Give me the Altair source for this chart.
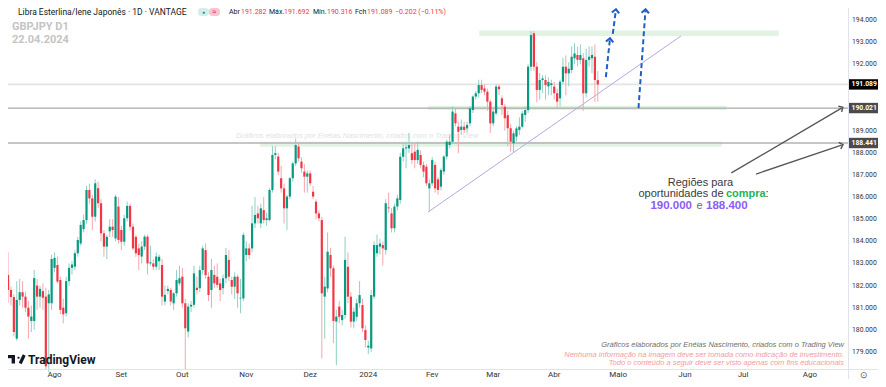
import math
import altair as alt
import pandas as pd

# ---------------- data ----------------
opens = [
    182.48, 181.80, 181.48, 179.6, 181.35, 181.7, 181.5, 181.0, 180.4, 180.4,
    182.0, 181.5, 181.75, 181.5, 181.2, 181.2, 182.8, 182.93, 182.25, 181.0,
    180.75, 182.2, 182.8, 182.85, 183.46, 183.9, 184.55, 184.96, 186.32, 185.94,
    185.11, 186.4, 185.72, 184.36, 183.76, 184.45, 184.66, 184.13, 185.57, 184.51,
    183.98, 185.04, 185.6, 184.66, 184.2, 183.68, 183.31, 183.76, 184.21, 183.0,
    183.0, 182.85, 183.1, 182.93, 181.28, 181.75, 181.8, 181.2, 181.65, 182.1,
    182.4, 181.2, 179.92, 181.05, 181.13, 181.9, 181.88, 182.7, 183.6, 182.4,
    181.8, 182.48, 182.4, 182.1, 181.88, 182.33, 183.16, 182.25, 181.95, 182.4,
    181.42, 181.42, 183.38, 183.68, 183.68, 184.81, 185.26, 184.81, 185.41, 184.96,
    184.96, 186.32, 187.9, 187.83, 186.85, 186.39, 185.49, 186.02, 186.85, 187.52,
    188.28, 187.6, 187.15, 186.92, 187.07, 186.24, 185.79, 185.26, 184.96, 181.5,
    181.87, 183.38, 182.78, 180.37, 181.05, 180.44, 180.67, 182.85, 181.5, 180.37,
    180.59, 181.2, 181.12, 179.99, 179.2, 179.16, 181.5, 183.46, 183.76, 183.83,
    183.61, 185.53, 185.26, 184.59, 185.57, 185.87, 187.82, 188.2, 188.2, 187.98,
    188.05, 187.67, 187.9, 187.45, 187.37, 186.39, 186.62, 187.45, 186.8, 186.47,
    187.15, 187.83, 188.35, 188.5, 189.78, 189.18, 189.03, 189.18, 189.1, 189.33,
    189.93, 190.54, 190.69, 191.06, 190.91, 190.76, 190.31, 189.33, 189.78, 190.99,
    190.46, 190.08, 189.7, 189.11, 188.43, 188.73, 189.03, 189.18, 189.71, 189.93,
    191.89, 193.4, 191.89, 190.84, 191.29, 191.29, 191.0, 191.06, 190.99, 190.69,
    190.46, 191.21, 191.89, 191.59, 191.74, 192.27, 192.42, 192.19, 192.27, 190.69,
    192.2, 192.27, 192.34, 191.282,
]
highs = [
    183.5, 181.95, 181.6, 182.2, 182.3, 182.2, 181.7, 181.3, 181.1, 182.7,
    182.3, 182.0, 182.1, 181.9, 181.8, 183.4, 183.5, 183.3, 182.4, 181.4,
    182.4, 183.0, 183.1, 183.6, 184.2, 184.9, 185.2, 186.5, 186.6, 186.1,
    186.8, 186.7, 185.9, 184.5, 184.3, 185.0, 185.0, 186.1, 186.0, 184.7,
    185.2, 185.8, 185.7, 184.8, 184.3, 183.9, 184.0, 184.3, 184.3, 183.8,
    183.2, 183.5, 183.4, 183.2, 182.0, 182.0, 181.9, 181.7, 182.7, 182.9,
    182.8, 181.4, 181.2, 181.3, 182.9, 182.4, 182.9, 183.8, 183.9, 182.6,
    183.2, 182.9, 183.0, 182.3, 182.5, 183.7, 183.6, 182.4, 182.6, 182.5,
    182.3, 184.4, 184.0, 183.9, 185.6, 186.0, 185.6, 185.7, 186.0, 185.3,
    186.4, 188.3, 188.3, 188.0, 187.4, 186.6, 186.1, 186.9, 187.6, 188.65,
    188.5, 187.8, 187.5, 187.2, 187.2, 186.5, 185.9, 185.4, 185.1, 182.4,
    184.4, 183.7, 182.9, 180.9, 181.3, 180.9, 184.2, 183.5, 181.7, 181.0,
    181.4, 182.2, 181.4, 180.2, 179.5, 181.8, 184.0, 184.3, 184.1, 184.0,
    185.9, 186.2, 185.5, 185.7, 186.1, 188.0, 188.4, 188.5, 188.9, 188.4,
    188.4, 188.5, 188.1, 187.6, 187.5, 186.8, 187.8, 187.6, 186.9, 187.3,
    187.9, 188.6, 188.8, 190.1, 190.0, 189.4, 189.5, 189.4, 189.4, 190.1,
    190.6, 190.8, 191.3, 191.3, 191.1, 190.9, 190.4, 190.0, 191.1, 191.1,
    190.6, 190.2, 189.9, 189.3, 189.0, 189.2, 189.6, 189.9, 190.1, 192.0,
    193.5, 193.5, 192.1, 191.6, 191.5, 191.5, 191.4, 191.3, 191.2, 190.9,
    191.3, 192.3, 192.4, 192.1, 192.8, 192.95, 192.8, 192.9, 192.5, 192.7,
    192.8, 192.8, 192.9, 191.692,
]
lows = [
    181.2, 181.1, 179.7, 179.5, 181.1, 181.0, 180.8, 179.6, 179.9, 180.0,
    180.9, 181.0, 180.9, 178.2, 178.1, 180.9, 182.6, 182.1, 180.7, 180.3,
    180.6, 182.0, 182.5, 182.7, 183.3, 183.8, 184.4, 184.8, 185.7, 184.5,
    184.9, 185.5, 184.0, 183.3, 183.2, 184.2, 184.2, 184.0, 183.9, 183.6,
    183.8, 184.9, 184.5, 183.6, 183.3, 182.7, 183.0, 183.6, 182.5, 182.9,
    182.7, 182.7, 182.7, 181.1, 181.1, 181.6, 181.1, 180.9, 181.5, 182.0,
    181.0, 178.2, 179.65, 180.8, 181.0, 181.6, 181.7, 182.5, 182.3, 181.3,
    181.0, 181.9, 181.9, 181.3, 181.6, 182.1, 182.2, 181.6, 181.4, 181.0,
    180.75, 181.3, 183.1, 183.2, 183.5, 184.6, 184.8, 184.6, 184.8, 184.7,
    184.9, 186.2, 187.7, 187.0, 186.2, 184.8, 184.5, 185.9, 186.7, 187.4,
    187.6, 187.1, 186.2, 186.2, 186.5, 185.9, 185.0, 184.9, 178.7, 179.6,
    181.7, 182.4, 179.4, 178.4, 180.3, 180.2, 180.5, 181.2, 180.1, 180.07,
    180.4, 181.0, 179.9, 179.2, 178.9, 179.0, 181.4, 183.3, 183.4, 182.9,
    183.4, 185.3, 184.4, 184.4, 185.4, 185.7, 187.6, 187.3, 188.0, 187.5,
    187.3, 187.5, 187.3, 186.9, 186.5, 185.34, 186.5, 186.2, 186.1, 186.3,
    187.0, 187.7, 188.2, 188.4, 189.2, 187.98, 188.8, 188.9, 188.9, 189.2,
    189.8, 190.4, 190.5, 190.7, 190.6, 189.9, 188.9, 189.2, 189.7, 190.6,
    189.7, 189.0, 188.3, 188.05, 188.0, 188.5, 188.8, 189.1, 189.4, 189.8,
    191.7, 191.7, 190.3, 190.4, 190.7, 190.4, 190.6, 190.6, 190.4, 190.0,
    190.1, 191.1, 190.6, 191.0, 191.6, 192.0, 191.9, 192.0, 189.9, 190.5,
    191.9, 191.6, 190.3, 190.316,
]
closes = [
    181.80, 181.48, 179.9, 181.35, 181.7, 181.5, 181.0, 180.6, 180.6, 182.34,
    181.5, 181.85, 181.45, 178.35, 181.6, 183.2, 183.25, 182.18, 180.9, 180.7,
    182.2, 182.8, 182.95, 183.46, 184.06, 184.74, 184.96, 186.32, 185.94, 185.11,
    186.62, 185.72, 184.36, 183.76, 184.2, 184.66, 184.51, 186.02, 184.06, 183.98,
    185.04, 185.6, 184.66, 183.68, 183.46, 183.38, 183.76, 184.21, 183.0, 183.05,
    182.85, 183.31, 183.3, 181.5, 181.58, 181.85, 181.28, 181.65, 182.25, 182.33,
    181.2, 180.07, 181.05, 181.13, 182.55, 181.8, 182.7, 183.68, 182.47, 181.57,
    182.7, 182.1, 182.03, 181.8, 182.33, 183.38, 182.4, 181.95, 182.4, 181.65,
    181.45, 184.29, 183.68, 183.38, 184.81, 185.19, 185.04, 185.49, 184.96, 185.04,
    186.32, 187.9, 187.98, 187.15, 186.39, 185.49, 186.02, 186.85, 187.52, 188.35,
    187.75, 187.3, 186.92, 187.07, 186.62, 186.02, 185.26, 185.04, 181.65, 181.95,
    183.53, 182.78, 180.4, 180.6, 180.59, 180.67, 183.16, 181.5, 180.37, 180.82,
    181.2, 181.57, 180.07, 179.54, 179.28, 181.57, 183.83, 183.83, 183.9, 183.68,
    185.72, 185.49, 184.59, 185.57, 185.94, 187.82, 188.2, 188.25, 188.35, 187.67,
    187.67, 188.13, 187.45, 187.15, 186.62, 186.62, 187.67, 186.39, 186.32, 187.22,
    187.83, 188.5, 188.5, 189.86, 189.33, 188.95, 189.18, 189.03, 189.26, 190.01,
    190.54, 190.69, 191.06, 190.84, 190.76, 190.31, 189.33, 189.86, 190.99, 190.87,
    190.16, 189.56, 189.11, 188.5, 188.88, 189.1, 189.18, 189.78, 189.93, 191.89,
    193.32, 191.89, 190.84, 191.29, 191.36, 191.06, 191.2, 191.14, 190.69, 190.31,
    191.21, 191.89, 191.59, 191.8, 192.34, 192.49, 192.2, 192.42, 190.69, 192.19,
    192.34, 192.42, 191.29, 191.089,
]

month_names = ["Ago", "Set", "Out", "Nov", "Dez", "2024", "Fev", "Mar", "Abr",
               "Maio", "Jun", "Jul", "Ago"]
month_bar_index = [16, 39, 60, 82, 104, 124, 146, 167, 188, 210, 233, 253, 276]
axis_prices = [194, 193, 192, 189, 188, 187, 186, 185, 184, 183, 182, 181, 180, 179]

level_prices = [191.089, 190.021, 188.441]
level_labels = ["191.089", "190.021", "188.441"]

zone_from = [162.2, 144.6, 86.7]
zone_to = [265.3, 247.3, 245.6]
zone_low = [193.28, 189.93, 188.27]
zone_high = [193.52, 190.13, 188.50]

trend_index = [144.56, 231.63]
trend_price = [185.32, 193.28]

blue_from_index = [205.78, 208.16, 217.01]
blue_from_price = [191.42, 193.37, 190.02]
blue_to_index = [207.14, 209.18, 219.39]
blue_to_price = [193.10, 194.41, 194.41]

grey_from_index = [248.98, 257.48]
grey_from_price = [187.09, 187.04]
grey_to_index = [286.9, 286.9]
grey_to_price = [190.02, 188.35]

# ---------------- layout ----------------
W, H = 843, 360          # scale range (plot area)
SEP = 840                # right price-axis separator (chart px)
PX_PER_BAR = 2.94
PX_PER_YEN = 22.13
X0 = 5 / PX_PER_BAR
X1 = X0 + W / PX_PER_BAR
Y1 = 194 + 12 / PX_PER_YEN
Y0 = Y1 - H / PX_PER_YEN

UP, DN = "#089981", "#f23645"
UP_W, DN_W = "#8fd0c4", "#f6a6ae"
BLUE = "#1f5fc6"
UI_FONT = "Roboto"
ANN_FONT = "Liberation Sans"

xs = alt.Scale(domain=[X0, X1], nice=False, zero=False)
ys = alt.Scale(domain=[Y0, Y1], nice=False, zero=False)


def X(f):
    return alt.X(f, type="quantitative", scale=xs, axis=None)


def Y(f):
    return alt.Y(f, type="quantitative", scale=ys, axis=None)


df = pd.DataFrame({"k": list(range(len(opens))), "o": opens, "h": highs,
                   "l": lows, "c": closes})
df["h"] = df[["h", "o", "c"]].max(axis=1)
df["l"] = df[["l", "o", "c"]].min(axis=1)

is_up = alt.datum.c >= alt.datum.o

zones = alt.Chart(pd.DataFrame({"k0": zone_from, "k1": zone_to, "lo": zone_low,
                                "hi": zone_high})).mark_rect(color="#e3f3e3").encode(
    x=X("k0"), x2=alt.X2("k1"), y=Y("lo"), y2=alt.Y2("hi"))

levels = alt.Chart(pd.DataFrame({"p": level_prices,
                                 "col": ["#e4e4e4", "#a9a9a9", "#b3b3b3"],
                                 "sw": [1.6, 1.3, 1.3]})).mark_rule().encode(
    y=Y("p"), x=alt.value(0), x2=alt.value(SEP),
    color=alt.Color("col:N", scale=None),
    strokeWidth=alt.StrokeWidth("sw:Q", scale=None))

trend = alt.Chart(pd.DataFrame({"k": trend_index, "p": trend_price})).mark_line(
    color="#b7a6e4", strokeWidth=1).encode(x=X("k"), y=Y("p"))

wicks = alt.Chart(df).mark_rule(strokeWidth=1).encode(
    x=X("k"), y=Y("l"), y2=alt.Y2("h"),
    color=alt.when(is_up).then(alt.value(UP_W)).otherwise(alt.value(DN_W)))

bodies = alt.Chart(df).mark_bar(size=2.2).encode(
    x=X("k"), y=Y("o"), y2=alt.Y2("c"),
    color=alt.when(is_up).then(alt.value(UP)).otherwise(alt.value(DN)))


def arrow_angles(k0, p0, k1, p1):
    out = []
    for a, b, c, d in zip(k0, p0, k1, p1):
        dx = (c - a) * PX_PER_BAR
        dy = (d - b) * PX_PER_YEN
        out.append(math.degrees(math.atan2(dx, dy)) % 360)
    return out


bdf = pd.DataFrame({"k0": blue_from_index, "p0": blue_from_price,
                    "k1": blue_to_index, "p1": blue_to_price})
bdf["ang"] = arrow_angles(blue_from_index, blue_from_price, blue_to_index, blue_to_price)
blue_lines = alt.Chart(bdf).mark_rule(color=BLUE, strokeWidth=2, strokeDash=[5, 3]).encode(
    x=X("k0"), x2=alt.X2("k1"), y=Y("p0"), y2=alt.Y2("p1"))
CHEVRON = "M-1,0.55L0,-0.45L1,0.55"
blue_heads = alt.Chart(bdf).mark_point(shape=CHEVRON, filled=False, color=BLUE,
                                       strokeWidth=2, size=55, opacity=1).encode(
    x=X("k1"), y=Y("p1"), angle=alt.Angle("ang:Q", scale=None))

gdf = pd.DataFrame({"k0": grey_from_index, "p0": grey_from_price,
                    "k1": grey_to_index, "p1": grey_to_price})
gdf["ang"] = arrow_angles(grey_from_index, grey_from_price, grey_to_index, grey_to_price)
grey_lines = alt.Chart(gdf).mark_rule(color="#555555", strokeWidth=1.3).encode(
    x=X("k0"), x2=alt.X2("k1"), y=Y("p0"), y2=alt.Y2("p1"))
grey_heads = alt.Chart(gdf).mark_point(shape=CHEVRON, filled=False, color="#555555",
                                       strokeWidth=1.5, size=45, opacity=1).encode(
    x=X("k1"), y=Y("p1"), angle=alt.Angle("ang:Q", scale=None))


def txt(s, x, y, size, color, weight="normal", style="normal", align="left",
        font=UI_FONT, opacity=1.0):
    return alt.Chart(pd.DataFrame({"t": [s]})).mark_text(
        fontSize=size, color=color, fontWeight=weight, fontStyle=style,
        align=align, baseline="middle", font=font, opacity=opacity).encode(
        x=alt.value(x), y=alt.value(y), text="t:N")


def box(x0, x1, y0, y1, color, radius=0):
    return alt.Chart(pd.DataFrame({"a": [0]})).mark_rect(
        color=color, cornerRadius=radius).encode(
        x=alt.value(x0), x2=alt.value(x1), y=alt.value(y0), y2=alt.value(y1))


watermark = txt("Gráficos elaborados por Enéias Nascimento, criados com o Trading View",
                349, 128, 7.5, "#e2e2e2", style="italic", align="center", font=ANN_FONT)

texts = []
# header
texts.append(txt("Libra Esterlina/Iene Japonês · 1D · VANTAGE", 10, 3.8, 8.5, "#131722"))
texts.append(box(190, 201, 0, 8, "#d4efe9", 3))
texts.append(box(201, 212, 0, 8, "#f8c6d1", 3))
texts.append(txt("●", 195.5, 4, 5, "#089981", align="center"))
texts.append(txt("≈", 206.5, 4, 7, "#d81b60", align="center"))
for s, x, col in [("Abr", 221, "#131722"), ("191.282", 233, DN), ("Máx.", 261, "#131722"),
                  ("191.692", 276, DN), ("Mín.", 305, "#131722"), ("190.316", 319, DN),
                  ("Fch", 347, "#131722"), ("191.089", 359, DN),
                  ("−0.202 (−0.11%)", 387, DN)]:
    texts.append(txt(s, x, 3.8, 7, col))
texts.append(txt("GBPJPY D1", 4, 18.7, 11, "#c4c4c4", weight="bold"))
texts.append(txt("22.04.2024", 4, 32, 11, "#c4c4c4", weight="bold"))

# annotation
texts.append(txt("Regiões para", 692.5, 174.5, 11, "#3a3a3a", align="center", font=ANN_FONT))
texts.append(txt("oportunidades de", 715.5, 185.8, 11, "#3a3a3a", align="right", font=ANN_FONT))
texts.append(txt("compra", 718, 185.8, 11, "#22b35a", weight="bold", font=ANN_FONT))
texts.append(txt(":", 757.5, 185.8, 11, "#3a3a3a", font=ANN_FONT))
texts.append(txt("190.000", 684, 198, 11.5, "#8b5cf6", weight="bold", align="right", font=ANN_FONT))
texts.append(txt("e", 691.5, 198, 11, "#6b6b6b", align="center", font=ANN_FONT))
texts.append(txt("188.400", 698, 198, 11.5, "#8b5cf6", weight="bold", font=ANN_FONT))

# credits bottom right
texts.append(txt("Gráficos elaborados por Enéias Nascimento, criados com o Trading View",
                 836, 337, 7.5, "#6e6e6e", style="italic", align="right", font=ANN_FONT))
texts.append(txt("Nenhuma informação na imagem deve ser tomada como indicação de investimento.",
                 836, 347, 7.5, "#f39b9b", style="italic", align="right", font=ANN_FONT))
texts.append(txt("Todo o conteúdo a seguir deve ser visto apenas com fins educacionais",
                 836, 354.5, 7.5, "#f39b9b", style="italic", align="right", font=ANN_FONT))

# TradingView logo
texts.append(box(0, 7, 347, 350.2, "#131722"))
texts.append(box(3.6, 7, 347, 355.5, "#131722"))
texts.append(txt("●", 10.2, 348.8, 5, "#131722", align="center"))
texts.append(alt.Chart(pd.DataFrame({"a": [0]})).mark_rule(
    color="#131722", strokeWidth=3.2).encode(
    x=alt.value(12.2), x2=alt.value(16.2), y=alt.value(355.5), y2=alt.value(347)))
texts.append(txt("TradingView", 20, 351.5, 12, "#131722", weight="bold", font=UI_FONT))

# frame lines
right_sep = alt.Chart(pd.DataFrame({"a": [0]})).mark_rule(color="#e0e3eb", strokeWidth=1).encode(
    x=alt.value(SEP + 0.5), y=alt.value(0), y2=alt.value(371))
bottom_sep = alt.Chart(pd.DataFrame({"a": [0]})).mark_rule(color="#e0e3eb", strokeWidth=1).encode(
    x=alt.value(0), x2=alt.value(870), y=alt.value(H + 1.5))

# right price axis
axis_labels = alt.Chart(pd.DataFrame({"p": axis_prices,
                                      "lab": [f"{v:.3f}" for v in axis_prices]})).mark_text(
    fontSize=6.8, color="#333333", font=UI_FONT, align="left", baseline="middle").encode(
    x=alt.value(SEP + 4), y=Y("p"), text="lab:N")

ldf = pd.DataFrame({"p": level_prices, "lab": level_labels,
                    "lo": [v - 0.235 for v in level_prices],
                    "hi": [v + 0.235 for v in level_prices],
                    "bg": ["#000000", "#4b4b4b", "#4b4b4b"]})
level_boxes = alt.Chart(ldf).mark_rect().encode(
    x=alt.value(SEP + 1), x2=alt.value(870), y=Y("lo"), y2=alt.Y2("hi"),
    color=alt.Color("bg:N", scale=None))
level_text = alt.Chart(ldf).mark_text(fontSize=6.8, color="white", font=UI_FONT,
                                      fontWeight="bold", align="left",
                                      baseline="middle").encode(
    x=alt.value(SEP + 3.5), y=Y("p"), text="lab:N")

# bottom time axis
month_labels = alt.Chart(pd.DataFrame({"k": month_bar_index, "m": month_names})).mark_text(
    fontSize=8, color="#333333", font=UI_FONT, align="center", baseline="middle").encode(
    x=X("k"), y=alt.value(366.5), text="m:N")
gear = txt("⊙", 856, 366.5, 9, "#555555", align="center")

chart = alt.layer(
    zones, levels, watermark, trend, wicks, bodies,
    blue_lines, blue_heads, grey_lines, grey_heads,
    *texts,
    right_sep, bottom_sep, axis_labels, level_boxes, level_text, month_labels, gear,
).properties(
    width=W, height=H,
    padding={"left": 0, "top": 0, "right": 27, "bottom": 11},
    autosize=alt.AutoSizeParams(type="none"),
    background="white",
).configure_view(strokeWidth=0)

chart.save("out.html", embed_options={"renderer": "svg", "actions": False})
